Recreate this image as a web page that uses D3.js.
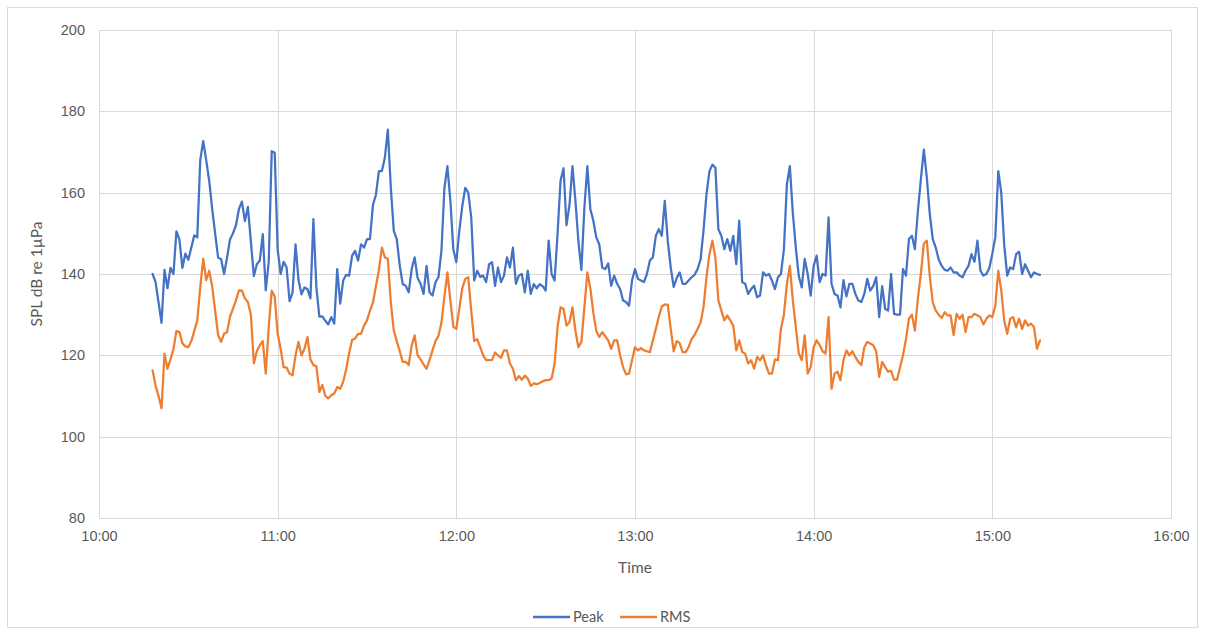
<!DOCTYPE html>
<html>
<head>
<meta charset="utf-8">
<script src="https://cdn.jsdelivr.net/npm/d3@7"></script>
<style>
  html, body { margin: 0; padding: 0; background: #fff; }
  svg { display: block; font-family: Lato, "Open Sans", sans-serif; }
</style>
</head>
<body>
<svg id="chart" width="1205" height="635"></svg>
<script>
// ---- Data (1-minute samples starting 10:18) ----
const startTime = "10:18";
const stepMinutes = 1;

const peak = [
  140, 138, 133, 128, 141, 136.5, 141.5, 140, 150.5, 148.5,
  141.5, 145, 143.5, 146.5, 149.5, 149, 168, 172.7, 168, 163,
  156, 150, 144, 143.7, 140, 144, 148.5, 150, 152, 156,
  157.8, 153, 156.5, 148, 139.5, 142.4, 143.3, 149.8, 136, 143,
  170.2, 169.8, 146, 140, 143, 141.6, 133.3, 135.5, 147.3, 138.5,
  135, 136.7, 136.3, 134, 153.5, 136.7, 129.5, 129.6, 128.5, 127.6,
  129.4, 127.8, 141.2, 132.7, 138.4, 139.8, 139.6, 144.5, 145.7, 143.3,
  147.3, 146.5, 148.6, 148.6, 157, 159.5, 165.3, 165.3, 168.6, 175.5,
  161.2, 150.6, 148.6, 142, 137.5, 137.1, 135.5, 141.2, 144.1, 139,
  137.6, 135.1, 142, 135.5, 134.7, 138, 139.2, 145.7, 161.2, 166.5,
  158, 146, 142.9, 150.6, 156.7, 161.2, 160, 154, 138.4, 140.8,
  139.3, 139.6, 138, 142.4, 142.9, 137.1, 141.6, 138, 139.6, 144.1,
  141.6, 146.5, 137.6, 139.6, 140, 135.5, 140.8, 135.1, 137.5, 136.5,
  137.5, 137, 135.9, 148.2, 140, 138.4, 150, 163, 166, 152,
  157, 166.5, 158, 148, 141, 156.3, 166.5, 156, 153.1, 149,
  147.3, 141.6, 141.2, 142.6, 137.1, 139.6, 137.6, 136.3, 133.5, 133.1,
  132.2, 138.4, 141.2, 138.8, 138.4, 138, 140, 143.3, 144.1, 149.4,
  151, 149.4, 158, 148.2, 141.6, 136.8, 139, 140.4, 137.6, 137.6,
  138.4, 139.2, 139.8, 141.2, 143.5, 150.6, 159.6, 165.3, 166.9, 166.1,
  151, 149.4, 146.1, 148.6, 145.7, 149.4, 142.4, 153.1, 138, 137.6,
  135.1, 136.3, 137.1, 134.3, 134.7, 140.4, 139.6, 140, 138.4, 136.3,
  139.2, 140, 146, 162, 166.5, 155, 146.5, 139.5, 136.7, 143.7,
  140, 134.7, 142, 144.5, 138, 140, 139.6, 153.9, 137.6, 135.1,
  134.7, 131.8, 138.5, 134.5, 137.6, 137.6, 135.1, 133.5, 133.1, 135.1,
  138.8, 135.9, 137, 139.2, 129.4, 137, 131.4, 131, 140, 130.2,
  130, 130, 141.2, 139.6, 148.6, 149.4, 146.1, 155.5, 163.3, 170.6,
  163.7, 154.7, 148.6, 146.5, 143.5, 142, 141, 140.8, 141.6, 140.4,
  140.4, 139.6, 139.2, 140.8, 142, 144.9, 143, 148.2, 140.8, 139.6,
  140, 141.5, 145, 149, 165.3, 160, 147, 139.6, 141.6, 141.2,
  144.9, 145.5, 140, 142.4, 140.8, 139.2, 140.4, 140, 139.8
];

const rms = [
  116.3, 112.5, 110, 107, 120.4, 116.7, 119, 121.5, 126, 125.7,
  123, 122.2, 122, 123.5, 126, 128.6, 136.7, 143.7, 138.5, 140.8,
  137, 131, 125, 123.3, 125.3, 125.7, 129.5, 131.5, 133.5, 136,
  135.9, 134, 133.1, 130, 118, 121, 122.5, 123.5, 115.5, 127,
  135.9, 134.5, 125.3, 121.6, 117.1, 117, 115.5, 115.1, 120, 123.3,
  120, 121.6, 124.5, 119, 117.6, 117.3, 111, 112.7, 110, 109.4,
  110.2, 110.6, 112.2, 111.8, 113.5, 116.5, 120.5, 123.8, 124.1, 125.3,
  125.3, 127.3, 128.6, 131, 133, 137, 141, 146.5, 144.1, 143.7,
  133, 126.1, 123.5, 121, 118.4, 118.4, 117.6, 122.4, 124.9, 120,
  119, 117.8, 116.7, 118.8, 121.2, 123.5, 124.8, 128, 134.5, 140.4,
  133.5, 127, 126.5, 131.5, 136.5, 138.8, 139.2, 131, 123.5, 124,
  122, 120, 118.8, 118.8, 118.9, 120.7, 120, 119.4, 121.2, 121.2,
  118, 116.7, 113.9, 114.9, 114, 115, 114.3, 112.5, 113.1, 112.9,
  113.2, 113.6, 113.9, 113.9, 114.3, 118, 127, 131.8, 131.4, 127.3,
  128.2, 131.8, 126, 122, 123.3, 131.8, 140.4, 136.5, 130.5, 126,
  124.5, 125.7, 124.7, 123.7, 121.6, 123.7, 123.7, 120, 117.1, 115.3,
  115.5, 118.8, 122, 121.2, 121.8, 121.2, 121, 120.8, 123.7, 126.5,
  129.5, 132, 132.5, 132.5, 126.5, 121, 123.5, 123, 120.8, 120.8,
  122, 124, 125, 126.5, 128, 131.8, 139.2, 144.9, 148.2, 144,
  133.5, 131, 128.6, 129.8, 128.6, 127.3, 121.2, 123.7, 120.8, 120.4,
  118, 118.8, 116.7, 119.6, 118.8, 120, 117.5, 115.5, 115.5, 119,
  118.8, 126.5, 130, 137.5, 142, 133.5, 127, 120.5, 118.8, 124.9,
  115.5, 117.1, 122, 123.7, 122.6, 121, 120.4, 129.4, 111.8, 115.5,
  116, 113.9, 118.8, 121.2, 120, 121, 119.6, 118.4, 117.6, 122,
  123.3, 122.9, 122.5, 121, 114.7, 118.4, 117.1, 116, 116.2, 114,
  114, 117, 120, 124, 129, 130, 126.1, 134, 140, 147.5,
  148.2, 139.5, 133, 131, 130, 129.2, 130.6, 129.8, 129.8, 125,
  130.2, 129, 130, 125.7, 129.4, 129.4, 130.2, 129.8, 129.4, 127.6,
  129, 129.8, 129.4, 132.2, 140.8, 136, 128.5, 125.3, 129, 129.4,
  126.9, 129, 126.5, 128.6, 127.3, 127.8, 126.9, 121.6, 123.7
];

const xTickLabels = ["10:00", "11:00", "12:00", "13:00", "14:00", "15:00", "16:00"];
const yTicks = [80, 100, 120, 140, 160, 180, 200];
const seriesNames = ["Peak", "RMS"];
const seriesColors = ["#4472C4", "#ED7D31"];

// ---- Helpers ----
const toMin = s => { const [h, m] = s.split(":").map(Number); return h * 60 + m; };
const fmt = m => `${Math.floor(m / 60)}:${String(m % 60).padStart(2, "0")}`;
const t0 = toMin(startTime);

// ---- Layout ----
const svg = d3.select("#chart");
const margin = { left: 99, right: 1205 - 1171, top: 30, bottom: 635 - 518 };
const W = 1205, H = 635;

svg.append("rect")
  .attr("x", 7.5).attr("y", 7.5).attr("width", W - 15).attr("height", H - 15)
  .attr("fill", "#fff").attr("stroke", "#d9d9d9").attr("stroke-width", 1);

const x = d3.scaleLinear()
  .domain([toMin(xTickLabels[0]), toMin(xTickLabels[xTickLabels.length - 1])])
  .range([margin.left, W - margin.right]);
const y = d3.scaleLinear()
  .domain([d3.min(yTicks), d3.max(yTicks)])
  .range([H - margin.bottom, margin.top]);

const xTickVals = xTickLabels.map(toMin);

// gridlines
const g = svg.append("g");
g.selectAll("line.hg").data(yTicks).join("line")
  .attr("x1", x.range()[0]).attr("x2", x.range()[1])
  .attr("y1", d => Math.round(y(d)) + 0.5).attr("y2", d => Math.round(y(d)) + 0.5)
  .attr("stroke", "#d9d9d9").attr("stroke-width", 1);
g.selectAll("line.vg").data(xTickVals).join("line")
  .attr("y1", y.range()[0]).attr("y2", y.range()[1])
  .attr("x1", d => Math.round(x(d)) + 0.5).attr("x2", d => Math.round(x(d)) + 0.5)
  .attr("stroke", "#d9d9d9").attr("stroke-width", 1);

// axes
const yAxis = d3.axisLeft(y).tickValues(yTicks).tickSize(0).tickPadding(14);
const yg = svg.append("g").attr("transform", `translate(${margin.left},0)`).call(yAxis);
yg.select(".domain").remove();
yg.selectAll("text").attr("fill", "#595959").style("font-size", "14.5px");

const xAxis = d3.axisBottom(x).tickValues(xTickVals).tickFormat(fmt).tickSize(0).tickPadding(13);
const xg = svg.append("g").attr("transform", `translate(0,${y.range()[0]})`).call(xAxis);
xg.select(".domain").attr("stroke", "#d9d9d9");
xg.selectAll("text").attr("fill", "#595959").style("font-size", "14.5px");

// axis titles
svg.append("text").attr("x", (x.range()[0] + x.range()[1]) / 2).attr("y", 573)
  .attr("text-anchor", "middle").attr("fill", "#595959").style("font-size", "15.5px").text("Time");
svg.append("text")
  .attr("transform", `translate(42,${(y.range()[0] + y.range()[1]) / 2}) rotate(-90)`)
  .attr("text-anchor", "middle").attr("fill", "#595959").style("font-size", "15.5px")
  .text("SPL dB re 1µPa");

// lines
const line = d3.line().x((d, i) => x(t0 + i * stepMinutes)).y(d => y(d));
[peak, rms].forEach((s, k) => {
  svg.append("path").datum(s)
    .attr("d", line).attr("fill", "none")
    .attr("stroke", seriesColors[k]).attr("stroke-width", 2.25)
    .attr("stroke-linejoin", "round").attr("stroke-linecap", "round");
});

// legend
const leg = svg.append("g").attr("transform", "translate(533,617)");
const legX = [0, 87];
seriesNames.forEach((n, k) => {
  const gi = leg.append("g").attr("transform", `translate(${legX[k]},0)`);
  gi.append("line").attr("x1", 0).attr("x2", 37).attr("y1", 0).attr("y2", 0)
    .attr("stroke", seriesColors[k]).attr("stroke-width", 2.5);
  gi.append("text").attr("x", 40).attr("y", 5).attr("fill", "#595959")
    .style("font-size", "14.5px").text(n);
});
</script>
</body>
</html>
